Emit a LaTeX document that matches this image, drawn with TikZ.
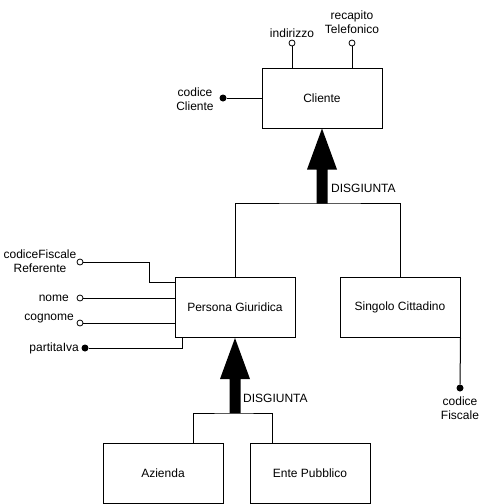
\documentclass[tikz,border=0pt]{standalone}
\usepackage{fontspec}
\setmainfont{Liberation Sans}
\usetikzlibrary{calc}
\tikzset{
  ent/.style={draw, line width=1pt, minimum width=120pt, minimum height=60pt, inner sep=0pt, font=\fontsize{12pt}{14pt}\selectfont},
  attro/.style={circle, draw, fill=white, line width=0.8pt, minimum size=6pt, inner sep=0pt},
  attrf/.style={circle, fill=black, minimum size=7pt, inner sep=0pt},
  lbl/.style={inner sep=0pt, font=\fontsize{12pt}{14pt}\selectfont, align=center},
  conn/.style={line width=1pt},
  isa/.pic={\fill (0,0) -- (15,41) -- (5.5,41) -- (5.5,75) -- (-5.5,75) -- (-5.5,41) -- (-15,41) -- cycle;}
}
\begin{document}
\begin{tikzpicture}[x=1pt,y=-1pt]
\useasboundingbox (0,0) rectangle (487,504);
% entities
\node[ent] (cliente) at (322,98) {Cliente};
\node[ent] (persona) at (235,307.5) {Persona Giuridica};
\node[ent] (singolo) at (400,307.5) {Singolo Cittadino};
\node[ent] (azienda) at (163,473) {Azienda};
\node[ent] (ente) at (310,473) {Ente Pubblico};
% generalization 1
\coordinate (g1) at (322,203);
\draw[conn] (persona.north) |- (g1) -| (singolo.north);
\pic at (cliente.south) {isa};
\node[lbl, anchor=west] (d1) at (331,188) {DISGIUNTA};
% generalization 2
\coordinate (g2) at (235,413);
\draw[conn] ($(azienda.north)+(30,0)$) |- (g2) -| ($(ente.north)+(-38,0)$);
\pic at (persona.south) {isa};
\node[lbl, anchor=west] (d2) at (243,398) {DISGIUNTA};
% Cliente attributes
\node[attrf] (cc) at (223,98) {};
\draw[conn] (cc) -- (cliente.west);
\node[lbl] (ccl) at (195,99) {codice\\Cliente};
\node[attro] (ind) at (292,43) {};
\draw[conn] (ind) -- (ind |- cliente.north);
\node[lbl] (indl) at (292,33) {indirizzo};
\node[attro] (rt) at (352,43) {};
\draw[conn] (rt) -- (rt |- cliente.north);
\node[lbl] (rtl) at (352,22) {recapito\\Telefonico};
% Persona Giuridica attributes
\node[attro] (cfr) at (80,262) {};
\draw[conn] (cfr) -| ($(persona.north west)+(-25,5)$) -- ($(persona.north west)+(0,5)$);
\node[lbl] (cfrl) at (40,261) {codiceFiscale\\Referente};
\node[attro] (nm) at (80,298) {};
\draw[conn] (nm) -- (nm -| persona.west);
\node[lbl, anchor=east] (nml) at (69,298) {nome};
\node[attro] (cg) at (80,323) {};
\draw[conn] (cg) -- (cg -| persona.west);
\node[lbl, anchor=east] (cgl) at (74,319) {cognome};
\node[attrf] (pi) at (85,348) {};
\draw[conn] (pi) -| ($(persona.south west)+(8,0)$);
\node[lbl, anchor=east] (pil) at (79,348) {partitaIva};
% Singolo Cittadino attribute
\node[attrf] (cf) at (460,388) {};
\draw[conn] (singolo.south east) -- (cf);
\node[lbl] (cfl) at (460,408) {codice\\Fiscale};
\end{tikzpicture}
\end{document}
